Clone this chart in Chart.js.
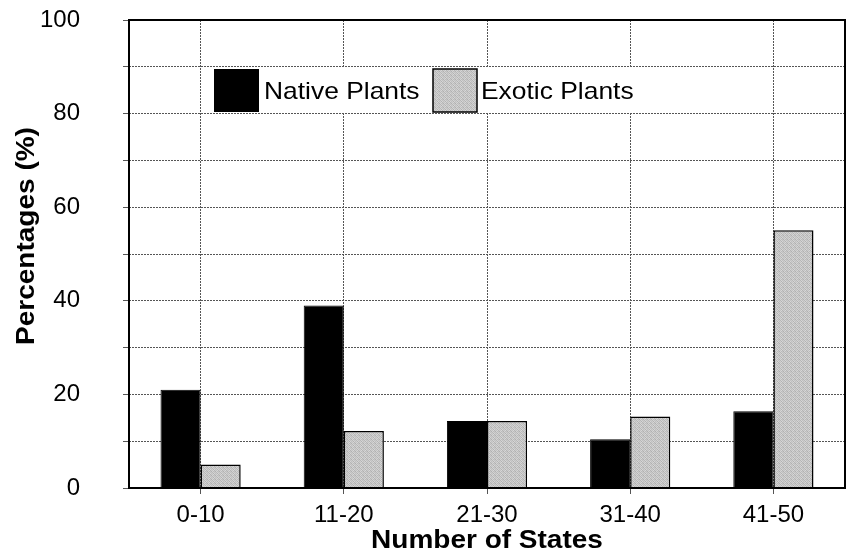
<!DOCTYPE html>
<html>
<head>
<meta charset="utf-8">
<script src="https://cdn.jsdelivr.net/npm/chart.js@4"></script>
<style>
  html, body { margin: 0; padding: 0; background: #fff; }
  #wrap { width: 850px; height: 556px; }
</style>
</head>
<body>
<div id="wrap"><canvas id="chart" width="850" height="556"></canvas></div>
<script>
// data
const categories = ['0-10', '11-20', '21-30', '31-40', '41-50'];
const nativePlants = [21, 39, 14.3, 10.4, 16.4];
const exoticPlants = [5, 12.2, 14.3, 15.3, 55.1];
const seriesNames = ['Native Plants', 'Exotic Plants'];
const yLabels = [0, 20, 40, 60, 80, 100];

const FONT = '"Liberation Sans", Arial, sans-serif';

// speckled grey fill like the scanned figure
function greyPattern() {
    const c = document.createElement('canvas');
    c.width = 4; c.height = 4;
    const g = c.getContext('2d');
    const shades = [
        '#b8b8b8', '#d4d4d4', '#c0c0c0', '#cccccc',
        '#d0d0d0', '#b2b2b2', '#d6d6d6', '#bebebe',
        '#c2c2c2', '#d8d8d8', '#b5b5b5', '#cdcdcd',
        '#d5d5d5', '#bbbbbb', '#c8c8c8', '#b0b0b0'
    ];
    shades.forEach((s, i) => {
        g.fillStyle = s;
        g.fillRect(i % 4, Math.floor(i / 4), 1, 1);
    });
    return g.createPattern(c, 'repeat');
}

// text in the scan is a bit wider than Arial
function wideText(ctx, text, x, y, sx) {
    ctx.save();
    ctx.translate(x, y);
    ctx.scale(sx, 1);
    ctx.fillText(text, 0, 0);
    ctx.restore();
}

const ctx = document.getElementById('chart').getContext('2d');
const grey = greyPattern();

const extras = {
    id: 'extras',
    afterDraw(chart) {
        const { ctx, chartArea: a } = chart;
        ctx.save();
        // frame
        ctx.strokeStyle = '#000';
        ctx.lineWidth = 2;
        ctx.strokeRect(a.left, a.top, a.right - a.left, a.bottom - a.top);

        // legend inside the plot
        ctx.fillStyle = '#fff';
        ctx.fillRect(206, 68, 436, 45);
        ctx.fillStyle = '#000';
        ctx.fillRect(214, 69, 45, 43);
        ctx.fillStyle = grey;
        ctx.fillRect(433, 69, 44, 43);
        ctx.strokeStyle = '#000';
        ctx.lineWidth = 1.5;
        ctx.strokeRect(433, 69, 44, 43);
        ctx.fillStyle = '#000';
        ctx.font = '24px ' + FONT;
        ctx.textBaseline = 'middle';
        ctx.textAlign = 'left';
        wideText(ctx, seriesNames[0], 264, 92, 1.1);
        wideText(ctx, seriesNames[1], 481, 92, 1.1);

        // axis titles
        ctx.font = 'bold 25px ' + FONT;
        ctx.textAlign = 'center';
        wideText(ctx, 'Number of States', (a.left + a.right) / 2, 541, 1.12);
        ctx.translate(27, 236);
        ctx.rotate(-Math.PI / 2);
        wideText(ctx, 'Percentages (%)', 0, 0, 1.12);
        ctx.restore();
    }
};

new Chart(ctx, {
    type: 'bar',
    data: {
        labels: categories,
        datasets: [
            {
                label: seriesNames[0],
                data: nativePlants,
                backgroundColor: '#000',
                borderColor: '#000',
                borderWidth: 1,
            },
            {
                label: seriesNames[1],
                data: exoticPlants,
                backgroundColor: grey,
                borderColor: '#000',
                borderWidth: 1.5,
            },
        ],
    },
    options: {
        responsive: false,
        animation: false,
        devicePixelRatio: 1,
        layout: { padding: { top: 20, right: 5, left: 0, bottom: 0 } },
        datasets: {
            bar: { categoryPercentage: 0.56, barPercentage: 1 },
        },
        plugins: {
            legend: { display: false },
            tooltip: { enabled: false },
        },
        scales: {
            x: {
                offset: true,
                grid: {
                    offset: false,
                    color: '#555',
                    lineWidth: 1,
                    tickLength: 6,
                },
                border: { display: false, dash: [2, 1] },
                ticks: {
                    color: '#000',
                    padding: 7,
                    font: { family: FONT, size: 24 },
                },
                afterFit(scale) { scale.height = 68; },
            },
            y: {
                min: 0,
                max: 100,
                grid: {
                    color: '#555',
                    lineWidth: 1,
                    tickLength: 6,
                },
                border: { display: false, dash: [2, 1] },
                ticks: {
                    stepSize: 10,
                    color: '#000',
                    padding: 43,
                    font: { family: FONT, size: 24 },
                    callback: (v) => (yLabels.includes(v) ? v : ''),
                },
                afterFit(scale) {
                    scale.width = 129;
                    scale.paddingTop = 0;
                    scale.paddingBottom = 0;
                },
            },
        },
    },
    plugins: [extras],
});
</script>
</body>
</html>
